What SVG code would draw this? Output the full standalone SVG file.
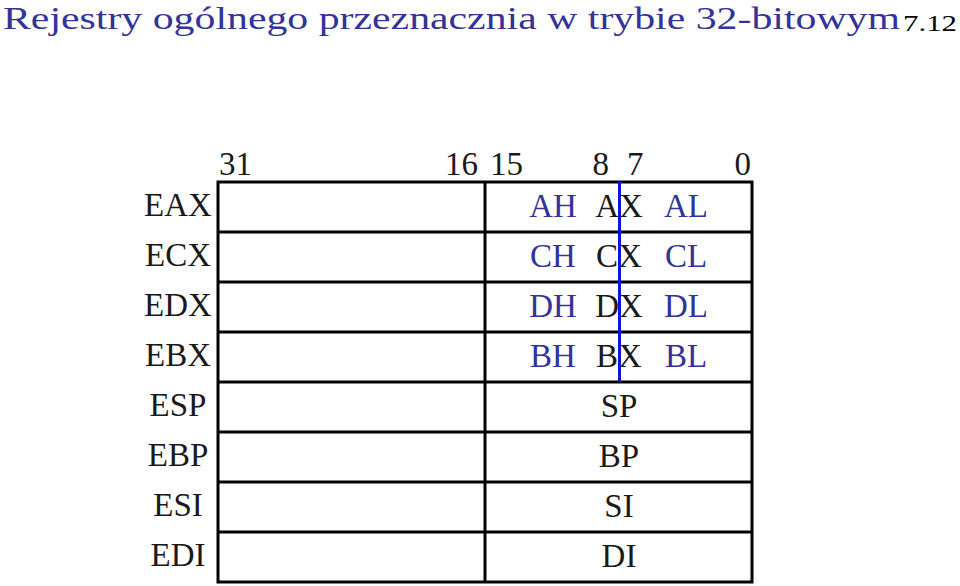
<svg xmlns="http://www.w3.org/2000/svg" width="960" height="586" viewBox="0 0 960 586">
<style>
text{font-family:'Liberation Serif','Times New Roman','DejaVu Serif',serif}
.t{font-size:32.5px;fill:#333399}
.pg{font-size:24px;fill:#000}
.lbl{font-size:33px;fill:#1a1a1a;text-anchor:middle}
.num{font-size:33px;fill:#1a1a1a}
.b{font-size:33px;fill:#333399;text-anchor:middle}
.k{font-size:33px;fill:#1a1a1a;text-anchor:middle}
.grid{fill:none;stroke:#000;stroke-width:3}
.blue{stroke:#1010e0;stroke-width:3}
</style>
<rect width="960" height="586" fill="#fff"/>
<text class="t" x="3" y="29" textLength="897" lengthAdjust="spacingAndGlyphs">Rejestry ogólnego przeznacznia w trybie 32-bitowym</text>
<text class="pg" x="903" y="31" textLength="54" lengthAdjust="spacingAndGlyphs">7.12</text>
<g id="bits">
<text class="num" x="219" y="175">31</text>
<text class="num" x="478" y="175" text-anchor="end">16</text>
<text class="num" x="490" y="175">15</text>
<text class="num" x="609" y="175" text-anchor="end">8</text>
<text class="num" x="627" y="175">7</text>
<text class="num" x="751" y="175" text-anchor="end">0</text>
</g>
<g id="grid">
<rect class="grid" x="218" y="182" width="534" height="400"/>
<path class="grid" d="M485 182V582M218 232H752M218 282H752M218 332H752M218 382H752M218 432H752M218 482H752M218 532H752"/>
</g>
<g id="reg-eax">
<text class="lbl" x="178" y="216">EAX</text>
<text class="b" x="553" y="217">AH</text>
<text class="k" x="619" y="217">AX</text>
<text class="b" x="686" y="217">AL</text>
</g>
<g id="reg-ecx">
<text class="lbl" x="178" y="266">ECX</text>
<text class="b" x="553" y="267">CH</text>
<text class="k" x="619" y="267">CX</text>
<text class="b" x="686" y="267">CL</text>
</g>
<g id="reg-edx">
<text class="lbl" x="178" y="316">EDX</text>
<text class="b" x="553" y="317">DH</text>
<text class="k" x="619" y="317">DX</text>
<text class="b" x="686" y="317">DL</text>
</g>
<g id="reg-ebx">
<text class="lbl" x="178" y="366">EBX</text>
<text class="b" x="553" y="367">BH</text>
<text class="k" x="619" y="367">BX</text>
<text class="b" x="686" y="367">BL</text>
</g>
<g id="reg-esp">
<text class="lbl" x="178" y="416">ESP</text>
<text class="k" x="619" y="417">SP</text>
</g>
<g id="reg-ebp">
<text class="lbl" x="178" y="466">EBP</text>
<text class="k" x="619" y="467">BP</text>
</g>
<g id="reg-esi">
<text class="lbl" x="178" y="516">ESI</text>
<text class="k" x="619" y="517">SI</text>
</g>
<g id="reg-edi">
<text class="lbl" x="178" y="566">EDI</text>
<text class="k" x="619" y="567">DI</text>
</g>
<g id="connectors">
<line class="blue" x1="619.5" y1="182" x2="619.5" y2="382"/>
</g>
</svg>
